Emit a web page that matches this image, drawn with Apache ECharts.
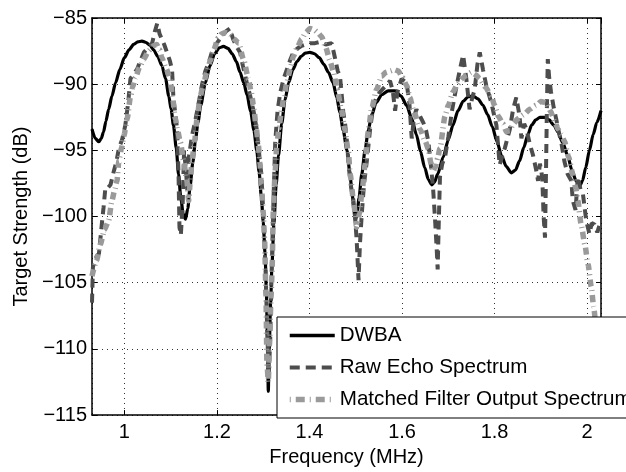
<!DOCTYPE html>
<html><head><meta charset="utf-8">
<script src="https://cdn.jsdelivr.net/npm/echarts@6/dist/echarts.min.js"></script>
<style>html,body{margin:0;padding:0;background:#fff}#c{width:626px;height:472px}</style>
</head><body><div id="c"></div>
<script>
const FONT = 'Liberation Sans, Arial, Helvetica, sans-serif';
const xTicks = [1, 1.2, 1.4, 1.6, 1.8, 2];
const yTicks = [-115, -110, -105, -100, -95, -90, -85];
const seriesNames = ['DWBA', 'Raw Echo Spectrum', 'Matched Filter Output Spectrum'];
const xTitle = 'Frequency (MHz)';
const yTitle = 'Target Strength (dB)';

const dwbaPoints = [[0.930,-93.4],[0.937,-94.1],[0.945,-94.35],[0.950,-94.1],[0.955,-93.6],[0.960,-92.8],[0.966,-91.9],[0.973,-90.9],[0.981,-89.9],[0.990,-88.9],[1.000,-88.0],[1.010,-87.4],[1.020,-87.0],[1.029,-86.8],[1.038,-86.75],[1.047,-86.85],[1.055,-87.05],[1.063,-87.4],[1.072,-87.9],[1.081,-88.6],[1.089,-89.6],[1.096,-90.9],[1.101,-91.9],[1.106,-93.1],[1.112,-94.8],[1.117,-96.8],[1.122,-98.6],[1.127,-99.8],[1.132,-100.2],[1.137,-99.4],[1.142,-97.7],[1.148,-95.9],[1.153,-94.4],[1.159,-92.9],[1.165,-91.6],[1.175,-89.9],[1.185,-88.6],[1.195,-87.7],[1.205,-87.25],[1.214,-87.15],[1.224,-87.3],[1.233,-87.7],[1.242,-88.3],[1.250,-89.1],[1.258,-89.9],[1.265,-90.8],[1.273,-92.1],[1.280,-93.5],[1.286,-95.0],[1.291,-96.6],[1.296,-98.5],[1.300,-100.4],[1.304,-102.8],[1.307,-105.8],[1.309,-109.0],[1.311,-113.2],[1.313,-110.0],[1.316,-106.5],[1.319,-103.6],[1.323,-100.6],[1.328,-97.6],[1.333,-95.4],[1.340,-93.0],[1.347,-91.2],[1.355,-89.9],[1.364,-88.9],[1.373,-88.3],[1.382,-87.9],[1.391,-87.65],[1.401,-87.6],[1.411,-87.7],[1.421,-88.0],[1.431,-88.5],[1.441,-89.1],[1.451,-89.9],[1.459,-91.0],[1.466,-92.2],[1.473,-93.5],[1.481,-95.0],[1.487,-96.6],[1.492,-98.2],[1.496,-99.5],[1.499,-100.3],[1.503,-99.8],[1.507,-98.6],[1.513,-96.8],[1.520,-95.0],[1.527,-93.5],[1.534,-92.4],[1.544,-91.4],[1.556,-90.8],[1.570,-90.5],[1.585,-90.5],[1.598,-90.9],[1.610,-91.6],[1.621,-92.6],[1.631,-93.8],[1.640,-95.1],[1.649,-96.3],[1.657,-97.2],[1.664,-97.6],[1.670,-97.4],[1.677,-96.8],[1.689,-95.5],[1.700,-94.2],[1.710,-93.1],[1.721,-92.0],[1.732,-91.3],[1.743,-90.95],[1.754,-90.9],[1.764,-91.1],[1.775,-91.6],[1.785,-92.3],[1.795,-93.2],[1.805,-94.3],[1.815,-95.4],[1.825,-96.2],[1.836,-96.7],[1.845,-96.5],[1.854,-95.8],[1.863,-94.8],[1.872,-93.8],[1.880,-93.1],[1.889,-92.7],[1.898,-92.5],[1.908,-92.5],[1.918,-92.7],[1.928,-93.1],[1.937,-93.6],[1.947,-94.4],[1.958,-95.4],[1.967,-96.5],[1.976,-97.3],[1.984,-97.7],[1.990,-97.3],[1.997,-96.3],[2.005,-95.0],[2.013,-93.8],[2.021,-92.9],[2.030,-92.0]];

const rawPoints = [[0.930,-106.5],[0.932,-103.8],[0.940,-103.0],[0.945,-102.8],[0.952,-100.3],[0.955,-99.3],[0.959,-97.8],[0.965,-97.8],[0.970,-97.6],[0.977,-96.6],[0.983,-95.8],[0.988,-94.85],[0.995,-94.2],[1.002,-93.1],[1.006,-92.0],[1.009,-91.1],[1.013,-89.6],[1.020,-89.2],[1.027,-88.9],[1.035,-88.2],[1.042,-87.6],[1.050,-87.3],[1.060,-86.9],[1.066,-86.0],[1.071,-85.4],[1.076,-86.2],[1.081,-86.6],[1.086,-87.0],[1.092,-87.6],[1.098,-88.2],[1.103,-88.9],[1.106,-91.1],[1.110,-92.2],[1.114,-93.4],[1.117,-96.8],[1.119,-100.8],[1.122,-101.4],[1.126,-99.0],[1.129,-95.0],[1.133,-96.5],[1.136,-98.0],[1.139,-95.6],[1.146,-93.9],[1.153,-92.8],[1.160,-91.5],[1.168,-90.0],[1.175,-89.0],[1.182,-88.4],[1.189,-87.6],[1.200,-86.9],[1.210,-86.4],[1.220,-86.0],[1.228,-85.8],[1.232,-85.65],[1.235,-86.6],[1.243,-87.2],[1.250,-87.6],[1.256,-88.6],[1.264,-89.8],[1.272,-90.9],[1.279,-92.0],[1.286,-93.4],[1.292,-95.5],[1.296,-96.8],[1.301,-100.3],[1.305,-104],[1.309,-109],[1.312,-112],[1.315,-109.5],[1.318,-104.5],[1.322,-99.0],[1.326,-94.35],[1.331,-92.0],[1.337,-90.6],[1.344,-89.6],[1.351,-88.9],[1.358,-88.2],[1.365,-87.6],[1.374,-87.3],[1.383,-87.1],[1.392,-87.0],[1.401,-86.9],[1.412,-86.9],[1.423,-86.8],[1.435,-87.0],[1.448,-86.9],[1.455,-88.0],[1.461,-89.0],[1.466,-89.4],[1.473,-92.1],[1.477,-93.0],[1.481,-94.35],[1.485,-96.3],[1.490,-97.8],[1.495,-98.8],[1.498,-99.8],[1.502,-101.8],[1.506,-104.8],[1.509,-102.1],[1.513,-99.8],[1.518,-97.5],[1.524,-95.8],[1.531,-93.4],[1.538,-91.6],[1.545,-91.0],[1.552,-90.6],[1.563,-90.2],[1.574,-89.75],[1.580,-90.5],[1.585,-92.0],[1.590,-90.6],[1.599,-89.6],[1.610,-89.9],[1.616,-91.5],[1.621,-94.1],[1.626,-92.5],[1.631,-91.9],[1.640,-92.5],[1.646,-92.9],[1.652,-93.5],[1.657,-94.35],[1.662,-96.0],[1.667,-97.8],[1.671,-100.0],[1.675,-102.5],[1.677,-104.0],[1.679,-101.0],[1.682,-97.0],[1.687,-96.0],[1.693,-95.5],[1.700,-94.0],[1.708,-92.0],[1.718,-90.1],[1.725,-88.9],[1.732,-87.8],[1.739,-89.6],[1.746,-91.9],[1.752,-91.0],[1.757,-90.4],[1.763,-88.5],[1.768,-87.6],[1.775,-88.9],[1.782,-90.1],[1.793,-91.4],[1.800,-92.5],[1.804,-93.1],[1.811,-96.1],[1.816,-95.5],[1.822,-94.85],[1.833,-93.4],[1.840,-91.9],[1.847,-91.0],[1.851,-90.9],[1.854,-92.4],[1.858,-94.1],[1.864,-93.0],[1.869,-93.4],[1.876,-94.5],[1.883,-95.35],[1.890,-96.5],[1.894,-97.3],[1.898,-96.0],[1.903,-97.0],[1.906,-100.0],[1.909,-101.6],[1.911,-97.0],[1.913,-92.0],[1.915,-88.1],[1.918,-89.5],[1.922,-90.6],[1.928,-91.8],[1.933,-92.6],[1.940,-93.8],[1.944,-94.35],[1.951,-95.85],[1.958,-96.8],[1.966,-97.3],[1.969,-98.8],[1.975,-99.5],[1.980,-97.0],[1.986,-98.0],[1.991,-98.3],[1.998,-100.3],[2.005,-101.3],[2.010,-100.5],[2.016,-100.6],[2.022,-101.2],[2.030,-100.3]];

const mfPoints = [[0.930,-104.5],[0.940,-103.3],[0.948,-102.1],[0.957,-101.0],[0.966,-100.3],[0.973,-98.8],[0.979,-98.0],[0.984,-97.3],[0.988,-95.8],[0.994,-94.8],[0.999,-93.9],[1.006,-92.6],[1.013,-91.0],[1.018,-90.2],[1.024,-89.5],[1.033,-88.7],[1.042,-88.1],[1.052,-87.5],[1.063,-87.1],[1.070,-87.0],[1.076,-87.4],[1.081,-88.0],[1.090,-88.8],[1.099,-89.6],[1.104,-91.0],[1.110,-92.6],[1.115,-93.5],[1.121,-94.4],[1.128,-95.8],[1.135,-97.3],[1.139,-98.8],[1.142,-97.5],[1.146,-95.8],[1.152,-94.2],[1.157,-92.6],[1.164,-90.9],[1.171,-90.0],[1.178,-89.1],[1.186,-88.2],[1.193,-87.4],[1.203,-86.5],[1.210,-86.2],[1.218,-86.1],[1.228,-86.2],[1.238,-86.6],[1.247,-86.9],[1.258,-88.2],[1.268,-89.6],[1.274,-90.6],[1.279,-91.6],[1.284,-93.0],[1.289,-94.4],[1.293,-96.0],[1.296,-97.6],[1.300,-99.7],[1.303,-101.8],[1.306,-106.0],[1.308,-111.0],[1.311,-112.5],[1.314,-109.0],[1.317,-106.0],[1.319,-104.3],[1.322,-99.3],[1.326,-96.5],[1.329,-94.85],[1.334,-93.3],[1.340,-91.9],[1.345,-90.9],[1.351,-89.9],[1.358,-88.9],[1.365,-87.9],[1.374,-87.2],[1.383,-86.6],[1.392,-86.1],[1.401,-85.8],[1.410,-85.9],[1.418,-86.1],[1.426,-86.4],[1.435,-87.2],[1.444,-88.2],[1.452,-89.1],[1.460,-90.4],[1.469,-91.9],[1.476,-93.4],[1.484,-95.1],[1.488,-96.8],[1.495,-98.8],[1.502,-100.8],[1.508,-99.8],[1.513,-98.3],[1.520,-96.1],[1.527,-93.6],[1.534,-91.9],[1.545,-90.4],[1.556,-89.4],[1.565,-89.1],[1.574,-89.0],[1.583,-88.9],[1.592,-89.0],[1.601,-89.5],[1.610,-90.1],[1.617,-91.0],[1.624,-91.9],[1.639,-93.4],[1.650,-94.3],[1.657,-94.9],[1.662,-95.9],[1.667,-96.6],[1.672,-96.3],[1.677,-95.6],[1.682,-94.85],[1.693,-92.4],[1.700,-91.6],[1.710,-90.6],[1.720,-90.0],[1.729,-89.6],[1.740,-89.3],[1.750,-89.1],[1.760,-89.3],[1.768,-89.6],[1.780,-90.2],[1.793,-90.9],[1.800,-91.6],[1.808,-92.4],[1.818,-93.0],[1.826,-93.6],[1.833,-93.5],[1.840,-93.0],[1.851,-92.6],[1.863,-92.3],[1.876,-91.9],[1.890,-91.6],[1.900,-91.3],[1.912,-91.4],[1.920,-92.0],[1.930,-92.8],[1.937,-93.4],[1.944,-93.8],[1.951,-94.3],[1.960,-95.5],[1.969,-96.8],[1.975,-97.8],[1.980,-98.8],[1.987,-100.6],[1.995,-102.1],[2.002,-103.6],[2.009,-105.3],[2.014,-106.8],[2.020,-108.5],[2.030,-111.0]];

const X_MIN = 0.93, X_MAX = 2.03, Y_MIN = -115, Y_MAX = -85;

function isTick(list, v) { return list.some(t => Math.abs(t - v) < 1e-9); }
const fmtY = v => isTick(yTicks, v) ? String(v).replace('-', '\u2212') : '';
const fmtX = v => isTick(xTicks, v) ? String(v) : '';

const gridLine = { show: true, lineStyle: { color: '#333', width: 1, type: [1, 4] } };
const axisLineStyle = { show: true, onZero: false, lineStyle: { color: '#000', width: 1.5 } };
const tickStyle = { show: true, inside: true, length: 5, lineStyle: { color: '#000', width: 1 } };
const hiddenSymbol = { color: 'rgba(0,0,0,0)', borderColor: 'rgba(0,0,0,0)', borderWidth: 0 };

const chart = echarts.init(document.getElementById('c'), null, { renderer: 'canvas' });
chart.setOption({
  animation: false,
  backgroundColor: '#fff',
  textStyle: { fontFamily: FONT },
  grid: { left: 92, right: 25, top: 18, bottom: 52, containLabel: false, show: false },
  xAxis: [{
    type: 'value', min: X_MIN, max: X_MAX, splitNumber: 5,
    name: xTitle, nameLocation: 'middle', nameGap: 28,
    nameTextStyle: { fontFamily: FONT, fontSize: 20, color: '#000' },
    axisLine: axisLineStyle, axisTick: tickStyle,
    axisLabel: { formatter: fmtX, margin: 7, fontFamily: FONT, fontSize: 20, color: '#000', showMinLabel: false, showMaxLabel: false },
    splitLine: gridLine
  }, {
    type: 'value', min: X_MIN, max: X_MAX, splitNumber: 5, position: 'top',
    axisLine: axisLineStyle, axisTick: tickStyle,
    axisLabel: { show: false }, splitLine: { show: false }
  }],
  yAxis: [{
    type: 'value', min: Y_MIN, max: Y_MAX, interval: 5,
    name: yTitle, nameLocation: 'middle', nameGap: 56, nameRotate: 90,
    nameTextStyle: { fontFamily: FONT, fontSize: 20, color: '#000' },
    axisLine: axisLineStyle, axisTick: tickStyle,
    axisLabel: { formatter: fmtY, margin: 5, fontFamily: FONT, fontSize: 20, color: '#000' },
    splitLine: gridLine
  }, {
    type: 'value', min: Y_MIN, max: Y_MAX, interval: 5, position: 'right',
    axisLine: axisLineStyle, axisTick: tickStyle,
    axisLabel: { show: false }, splitLine: { show: false }
  }],
  legend: {
    orient: 'vertical', left: 277, top: 317,
    padding: [8, 60, 8, 10], itemGap: 11, itemWidth: 45, itemHeight: 14,
    backgroundColor: '#fff', borderColor: '#000', borderWidth: 1, borderRadius: 0,
    textStyle: { fontFamily: FONT, fontSize: 20.6, color: '#000' },
    itemStyle: hiddenSymbol,
    data: [
      { name: seriesNames[0], itemStyle: hiddenSymbol, lineStyle: { width: 3.5, type: 'solid' } },
      { name: seriesNames[1], itemStyle: hiddenSymbol, lineStyle: { width: 4, type: [10, 6] } },
      { name: seriesNames[2], itemStyle: hiddenSymbol, lineStyle: { width: 5.5, type: [1, 5, 9, 5] } }
    ]
  },
  series: [{
    name: seriesNames[0], type: 'line', data: dwbaPoints, symbol: 'none',
    smooth: 0.25, smoothMonotone: 'x', clip: true,
    lineStyle: { color: '#000', width: 3.2, type: 'solid' }, itemStyle: { color: '#000' }
  }, {
    name: seriesNames[1], type: 'line', data: rawPoints, symbol: 'none',
    smooth: false, clip: true,
    lineStyle: { color: '#4d4d4d', width: 4, type: [9, 6] }, itemStyle: { color: '#4d4d4d' }
  }, {
    name: seriesNames[2], type: 'line', data: mfPoints, symbol: 'none',
    smooth: 0.2, smoothMonotone: 'x', clip: true,
    lineStyle: { color: '#9a9a9a', width: 5.5, type: [7, 4, 1, 4] }, itemStyle: { color: '#9a9a9a' }
  }]
});
</script></body></html>
